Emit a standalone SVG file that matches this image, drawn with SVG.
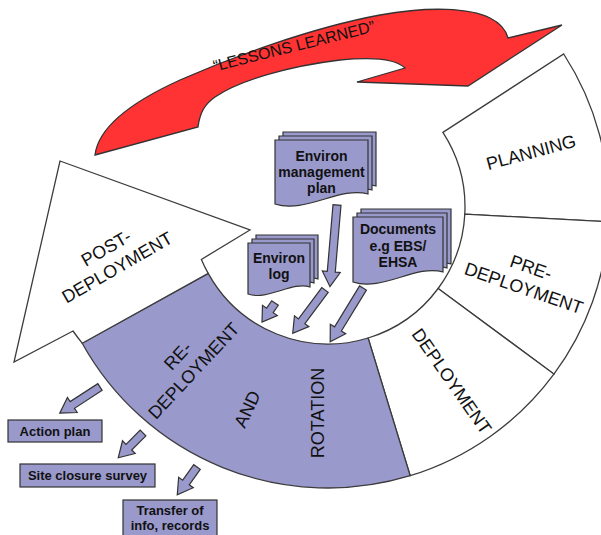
<svg xmlns="http://www.w3.org/2000/svg" width="601" height="535" viewBox="0 0 601 535">
<style>
.seg{fill:#ffffff;stroke:#3c3c3c;stroke-width:1.3}
.segp{fill:#9999cc;stroke:#3c3c3c;stroke-width:1.3}
.red{fill:#ff3333;stroke:#333333;stroke-width:1.3}
.lbl{font-family:"Liberation Sans",Arial,sans-serif;font-size:18px;fill:#111111;text-anchor:middle}
.pur{fill:#9999cc;stroke:#333333;stroke-width:1.2}
.btxt{font-family:"Liberation Sans",Arial,sans-serif;font-weight:bold;font-size:14px;fill:#111111;text-anchor:middle}
.bsm{font-size:13px}
</style>
<defs>
<path id="docA" d="M275,140 H368 V194 C340,186 305,214 275,204 Z"/>
<path id="docB" d="M353,217 H443 V272 C416,264 382,292 353,282 Z"/>
<path id="docC" d="M248,243 H310 V287 C292,281 268,301 248,294 Z"/>
</defs>

<g id="planning">
<path class="seg" d="M442.9,132.4 L563.7,54.0 A281,281 0 0 1 608.6,221.7 L464.8,214.2 A137,137 0 0 0 442.9,132.4 Z"/>
<text class="lbl" transform="translate(531,152) rotate(-15)" y="6.5">PLANNING</text>
</g>

<g id="pre-deployment">
<path class="seg" d="M464.8,214.2 L608.6,221.7 A281,281 0 0 1 553.9,374.1 L438.1,288.5 A137,137 0 0 0 464.8,214.2 Z"/>
<text class="lbl" transform="translate(527.5,277.5) rotate(19)"><tspan x="0" y="-4.5">PRE-</tspan><tspan x="0" y="17.5">DEPLOYMENT</tspan></text>
</g>

<g id="deployment">
<path class="seg" d="M438.1,288.5 L553.9,374.1 A281,281 0 0 1 410.2,475.7 L368.1,338.0 A137,137 0 0 0 438.1,288.5 Z"/>
<text class="lbl" transform="translate(452,381) rotate(55)" y="6.5">DEPLOYMENT</text>
</g>

<g id="re-deployment">
<path class="segp" d="M368.1,338.0 L410.2,475.7 A281,281 0 0 1 82.2,343.2 L208.2,273.4 A137,137 0 0 0 368.1,338.0 Z"/>
<text class="lbl" transform="translate(185.5,363) rotate(-47)"><tspan x="0" y="-4.5">RE-</tspan><tspan x="0" y="17.5">DEPLOYMENT</tspan></text>
<text class="lbl" transform="translate(247,409) rotate(-65)" y="6.5">AND</text>
<text class="lbl" transform="translate(317,413) rotate(-90)" y="6.5">ROTATION</text>
</g>

<g id="post-deployment">
<path class="seg" d="M82.2,343.2 A281,281 0 0 1 73,331 L14,362 L60,161 L250,230 L201.4,259.4 A137,137 0 0 0 208.2,273.4 Z"/>
<text class="lbl" transform="translate(111.5,257.5) rotate(-30)"><tspan x="0" y="-4.5">POST-</tspan><tspan x="0" y="17.5">DEPLOYMENT</tspan></text>
</g>

<g id="lessons-learned">
<path class="red" d="M95,155 C98,130 125,105 180,80 C230,58 310,28 380,15 C430,6 470,8 490,18 C500,23 506,30 508,38 L562,25 L468,86 L357,82 L405,68 C395,58 370,57 340,60 C290,66 240,80 215,97 C205,104 200,112 198,127 Z"/>
<text class="lbl" style="font-size:16px" transform="translate(294,46) rotate(-14)" y="5.5">“LESSONS LEARNED”</text>
</g>

<g id="doc-environ-management-plan">
<use href="#docA" class="pur" transform="translate(8,-8)"/>
<use href="#docA" class="pur" transform="translate(4,-4)"/>
<use href="#docA" class="pur"/>
<text class="btxt"><tspan x="321.5" y="161">Environ</tspan><tspan x="321.5" y="177">management</tspan><tspan x="321.5" y="193">plan</tspan></text>
</g>

<g id="doc-documents">
<use href="#docB" class="pur" transform="translate(8,-8)"/>
<use href="#docB" class="pur" transform="translate(4,-4)"/>
<use href="#docB" class="pur"/>
<text class="btxt"><tspan x="398" y="234">Documents</tspan><tspan x="398" y="251">e.g EBS/</tspan><tspan x="398" y="267">EHSA</tspan></text>
</g>

<g id="doc-environ-log">
<use href="#docC" class="pur" transform="translate(8,-8)"/>
<use href="#docC" class="pur" transform="translate(4,-4)"/>
<use href="#docC" class="pur"/>
<text class="btxt"><tspan x="279" y="263">Environ</tspan><tspan x="279" y="279">log</tspan></text>
</g>

<g id="connectors">
<polygon class="pur" transform="translate(337,205) rotate(94.9)" points="0,-4 67,-4 67,-9 82,0 67,9 67,4 0,4"/>
<polygon class="pur" transform="translate(275,303) rotate(124.4)" points="0,-4 9,-4 9,-9 23,0 9,9 9,4 0,4"/>
<polygon class="pur" transform="translate(325,290) rotate(126.7)" points="0,-4 39,-4 39,-9 54,0 39,9 39,4 0,4"/>
<polygon class="pur" transform="translate(363,288) rotate(121.4)" points="0,-4 48,-4 48,-9 63,0 48,9 48,4 0,4"/>
<polygon class="pur" transform="translate(100,387) rotate(147)" points="0,-4 33,-4 33,-9 48,0 33,9 33,4 0,4"/>
<polygon class="pur" transform="translate(143,433) rotate(135)" points="0,-4 20,-4 20,-9 35,0 20,9 20,4 0,4"/>
<polygon class="pur" transform="translate(197,467) rotate(125.5)" points="0,-4 19,-4 19,-9 34,0 19,9 19,4 0,4"/>
</g>

<g id="box-action-plan">
<rect class="pur" x="8" y="420" width="94" height="22"/>
<text class="btxt bsm" x="55" y="436">Action plan</text>
</g>

<g id="box-site-closure-survey">
<rect class="pur" x="20" y="464" width="135" height="23"/>
<text class="btxt bsm" x="87.5" y="480">Site closure survey</text>
</g>

<g id="box-transfer">
<rect class="pur" x="123" y="500" width="94" height="40"/>
<text class="btxt bsm"><tspan x="170" y="515">Transfer of</tspan><tspan x="170" y="530">info, records</tspan></text>
</g>
</svg>
